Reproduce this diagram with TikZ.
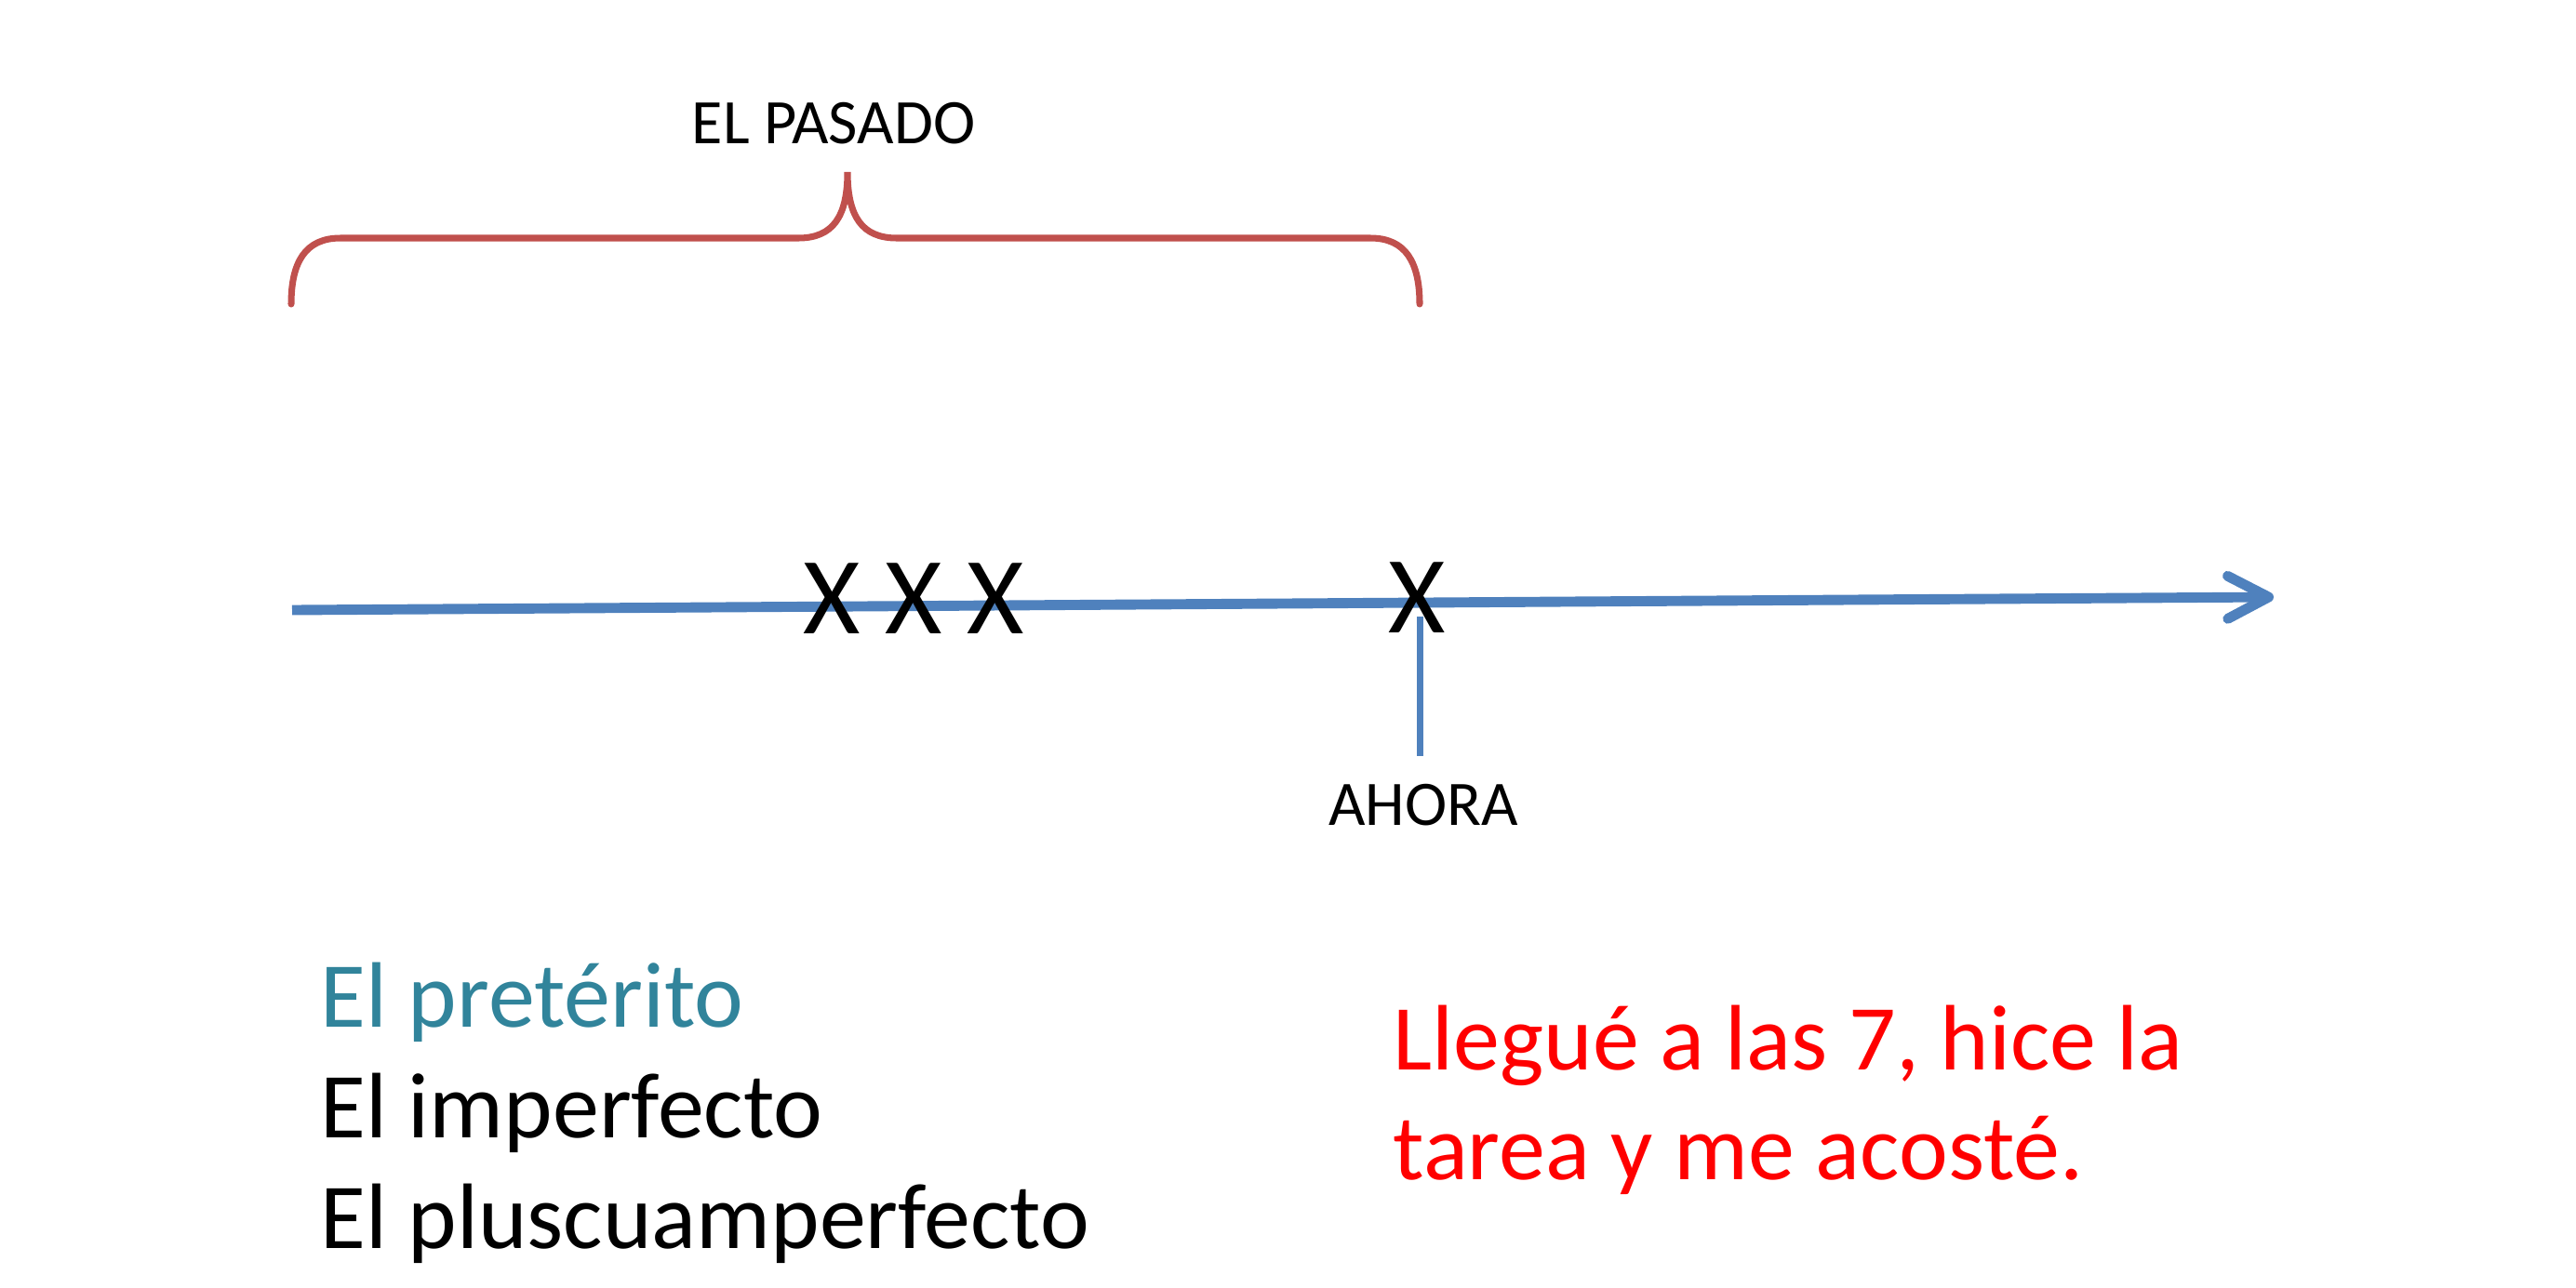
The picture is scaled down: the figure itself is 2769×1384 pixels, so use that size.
\documentclass[tikz,border=0pt]{standalone}
\usepackage{fontspec}
\setmainfont{Carlito}
\usetikzlibrary{arrows.meta}
\definecolor{braceRed}{HTML}{C0504D}
\definecolor{lineBlue}{HTML}{4F81BD}
\definecolor{tealText}{HTML}{31849B}
\definecolor{redText}{HTML}{FF0000}
\tikzset{
  smalllabel/.style={inner sep=0pt, font=\fontsize{19.4}{23}\selectfont, anchor=base},
  xmark/.style={inner sep=0pt, font=\fontsize{33.6}{40}\selectfont, anchor=base},
  bigtext/.style={inner sep=0pt, font=\fontsize{28.45}{34}\selectfont, anchor=base west},
  timeline/.style={draw=lineBlue, line width=3.1pt, -{Straight Barb[length=4.4mm,width=4.6mm,round]}},
  tickline/.style={draw=lineBlue, line width=2pt},
  bracestyle/.style={draw=braceRed, line width=2pt, line cap=round}
}
\begin{document}
\begin{tikzpicture}[x=0.1mm, y=-0.1mm]
\useasboundingbox (0,0) rectangle (2769,1384);
% brace
\draw[bracestyle] (313,327) .. controls (313,282) and (328,256) .. (366,256)
  -- (858,256) .. controls (896,256) and (911,232) .. (911,185)
  .. controls (911,232) and (926,256) .. (964,256)
  -- (1473,256) .. controls (1511,256) and (1526,282) .. (1526,327);
\node[smalllabel] (pasado) at (896,154) {EL PASADO};
% timeline
\coordinate (tstart) at (314,656);
\coordinate (tend) at (2444,642);
\draw[timeline] (tstart) -- (tend);
% X marks
\node[xmark] (x1) at (894,681) {X};
\node[xmark] (x2) at (982,681) {X};
\node[xmark] (x3) at (1070,681) {X};
\node[xmark] (x4) at (1523,680) {X};
% tick and AHORA
\coordinate (tickTop) at (1526,663);
\node[smalllabel] (ahora) at (1530,887) {AHORA};
\coordinate (tickBot) at (1526,813);
\draw[tickline] (tickTop) -- (tickBot);
% list
\node[bigtext, text=tealText] (pret) at (344,1104) {El pretérito};
\node[bigtext] (imp) at (344,1223) {El imperfecto};
\node[bigtext] (plus) at (344,1342) {El pluscuamperfecto};
% red sentence
\node[bigtext, text=redText] (s1) at (1497,1150) {Llegué a las 7, hice la};
\node[bigtext, text=redText] (s2) at (1497,1268) {tarea y me acosté.};
\end{tikzpicture}
\end{document}
